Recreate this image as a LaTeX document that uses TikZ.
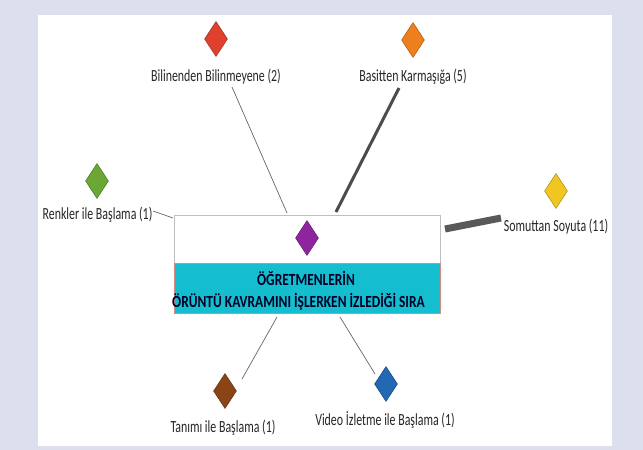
\documentclass[tikz,border=0pt]{standalone}
\usepackage{fontspec}
\setmainfont[FakeStretch=0.7, BoldFeatures={FakeStretch=0.79}]{Carlito}
\usetikzlibrary{shapes.geometric}
\definecolor{lav}{HTML}{DCE0EE}
\definecolor{cyanbox}{HTML}{14BECE}
\definecolor{boxred}{HTML}{D88A84}
\definecolor{labgray}{HTML}{262626}
\definecolor{cred}{HTML}{E0402E}
\definecolor{corange}{HTML}{EE7F1E}
\definecolor{cgreen}{HTML}{6AA735}
\definecolor{cyellow}{HTML}{F1C620}
\definecolor{cbrown}{HTML}{8A4416}
\definecolor{cblue}{HTML}{2268B3}
\definecolor{cpurple}{HTML}{8E259E}
\tikzset{
  gem/.style={diamond, minimum width=23pt, minimum height=35pt, inner sep=0pt,
    fill=#1, draw=#1!70!black, line width=0.5pt},
  lab/.style={font=\fontsize{17}{18}\selectfont, text=labgray, inner sep=0pt, anchor=base},
  ttl/.style={font=\fontsize{17}{18}\selectfont\bfseries, text=black!85!blue, inner sep=0pt, anchor=base},
  thinline/.style={draw=black!60, line width=0.7pt},
}
\begin{document}
\begin{tikzpicture}[x=1pt,y=-1pt]
\useasboundingbox (0,0) rectangle (643,450);
\fill[lav] (0,0) rectangle (643,450);
\fill[white] (38,15) rectangle (612,446);
% central box
\draw[black!25, line width=0.6pt, fill=white] (174,215) rectangle (440,263);
\draw[boxred, line width=0.8pt, fill=cyanbox] (174,263) rectangle (440,313);
\node[gem=cpurple] (center) at (307,238) {};
\node[ttl] (t1) at (306,285) {ÖĞRETMENLERİN};
\node[ttl, anchor=base west] (t2) at (172,307) {ÖRÜNTÜ KAVRAMINI İŞLERKEN İZLEDİĞİ SIRA};
% outer diamonds
\node[gem=cred] (d1) at (216,39) {};
\node[gem=corange] (d2) at (413,40) {};
\node[gem=cgreen] (d3) at (97,181) {};
\node[gem=cyellow] (d4) at (556,191) {};
\node[gem=cbrown] (d5) at (225,391) {};
\node[gem=cblue] (d6) at (386,384) {};
% labels
\node[lab] (l1) at (216,81) {Bilinenden Bilinmeyene (2)};
\node[lab] (l2) at (413,81) {Basitten Karmaşığa (5)};
\node[lab] (l3) at (97.5,219) {Renkler ile Başlama (1)};
\node[lab] (l4) at (556,231) {Somuttan Soyuta (11)};
\node[lab] (l5) at (223,432) {Tanımı ile Başlama (1)};
\node[lab] (l6) at (385,425) {Video İzletme ile Başlama (1)};
% connector ends
\coordinate (a1) at (232,87);  \coordinate (b1) at (287,213);
\coordinate (a2) at (399,88);  \coordinate (b2) at (336,212);
\coordinate (a3) at (153,211); \coordinate (b3) at (173,218);
\coordinate (a4) at (501,218); \coordinate (b4) at (445,229);
\coordinate (a5) at (242,379); \coordinate (b5) at (277,317);
\coordinate (a6) at (375,374); \coordinate (b6) at (340,317);
\draw[thinline] (a1) -- (b1);
\draw[draw=black!70, line width=3pt] (a2) -- (b2);
\draw[thinline] (a3) -- (b3);
\draw[draw=black!65, line width=7pt] (a4) -- (b4);
\draw[thinline] (a5) -- (b5);
\draw[thinline] (a6) -- (b6);
\end{tikzpicture}
\end{document}
